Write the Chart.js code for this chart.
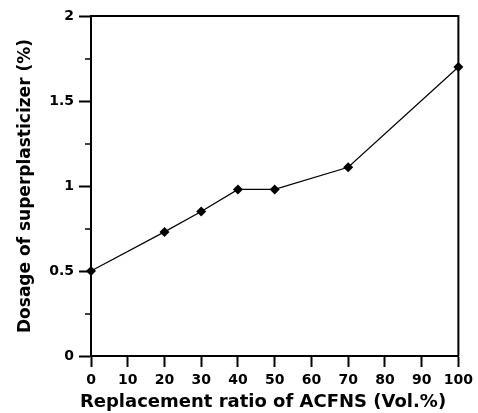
<!DOCTYPE html>
<html>
<head>
<meta charset="utf-8">
<script src="https://cdn.jsdelivr.net/npm/chart.js@4/dist/chart.umd.min.js"></script>
<style>
html,body{margin:0;padding:0;background:#fff;}
#wrap{width:478px;height:413px;}
</style>
</head>
<body>
<div id="wrap"><canvas id="c" width="478" height="413"></canvas></div>
<script>
const replacementRatio = [0, 20, 30, 40, 50, 70, 100];
const dosage = [0.50, 0.73, 0.85, 0.98, 0.98, 1.11, 1.70];
const xTicks = [0, 10, 20, 30, 40, 50, 60, 70, 80, 90, 100];
const yTicks = [0, 0.5, 1, 1.5, 2];
const yMinorTicks = [0.25, 0.75, 1.25, 1.75];
const xTitle = 'Replacement ratio of ACFNS (Vol.%)';
const yTitle = 'Dosage of superplasticizer (%)';

const FONT = '"DejaVu Sans", sans-serif';

const framePlugin = {
  id: 'frame',
  afterDraw(chart) {
    const {ctx, chartArea: a, scales} = chart;
    ctx.save();
    ctx.strokeStyle = '#000';
    ctx.lineWidth = 2;
    ctx.beginPath();
    ctx.moveTo(a.left, a.top);
    ctx.lineTo(a.right, a.top);
    ctx.lineTo(a.right, a.bottom);
    ctx.stroke();
    // minor y ticks
    ctx.lineWidth = 1.5;
    yMinorTicks.forEach(v => {
      const py = Math.round(scales.y.getPixelForValue(v));
      ctx.beginPath();
      ctx.moveTo(a.left - 6, py);
      ctx.lineTo(a.left, py);
      ctx.stroke();
    });
    // axis titles
    ctx.fillStyle = '#000';
    ctx.textAlign = 'center';
    ctx.textBaseline = 'middle';
    ctx.font = 'bold 18px ' + FONT;
    ctx.fillText(xTitle, 263, 402);
    ctx.font = 'bold 17px ' + FONT;
    ctx.translate(26, 186);
    ctx.rotate(-Math.PI / 2);
    ctx.fillText(yTitle, 0, 0);
    ctx.restore();
  }
};

new Chart(document.getElementById('c'), {
  type: 'line',
  data: {
    datasets: [{
      data: replacementRatio.map((x, i) => ({x: x, y: dosage[i]})),
      borderColor: '#000',
      borderWidth: 1.2,
      backgroundColor: '#000',
      pointStyle: 'rectRot',
      pointRadius: 5,
      pointBorderWidth: 0,
      tension: 0,
      clip: false
    }]
  },
  options: {
    responsive: false,
    animation: false,
    devicePixelRatio: 1,
    layout: {padding: {left: 0, top: 16, right: 17, bottom: 0}},
    plugins: {legend: {display: false}, tooltip: {enabled: false}},
    scales: {
      x: {
        type: 'linear',
        min: 0, max: 100,
        afterBuildTicks: s => { s.ticks = xTicks.map(v => ({value: v})); },
        afterFit: s => { s.height = 57; },
        border: {color: '#000', width: 2},
        grid: {drawOnChartArea: false, tickLength: 11, tickColor: '#000', tickWidth: 2},
        ticks: {color: '#000', font: {family: FONT, size: 14, weight: 'bold'}, padding: 5, maxRotation: 0,
                callback: v => String(v)}
      },
      y: {
        type: 'linear',
        min: 0, max: 2,
        afterBuildTicks: s => { s.ticks = yTicks.map(v => ({value: v})); },
        afterFit: s => { s.width = 91; },
        border: {color: '#000', width: 2},
        grid: {drawOnChartArea: false, tickLength: 12, tickColor: '#000', tickWidth: 2},
        ticks: {color: '#000', font: {family: FONT, size: 14, weight: 'bold'}, padding: 5,
                callback: v => String(v)}
      }
    }
  },
  plugins: [framePlugin]
});
</script>
</body>
</html>
